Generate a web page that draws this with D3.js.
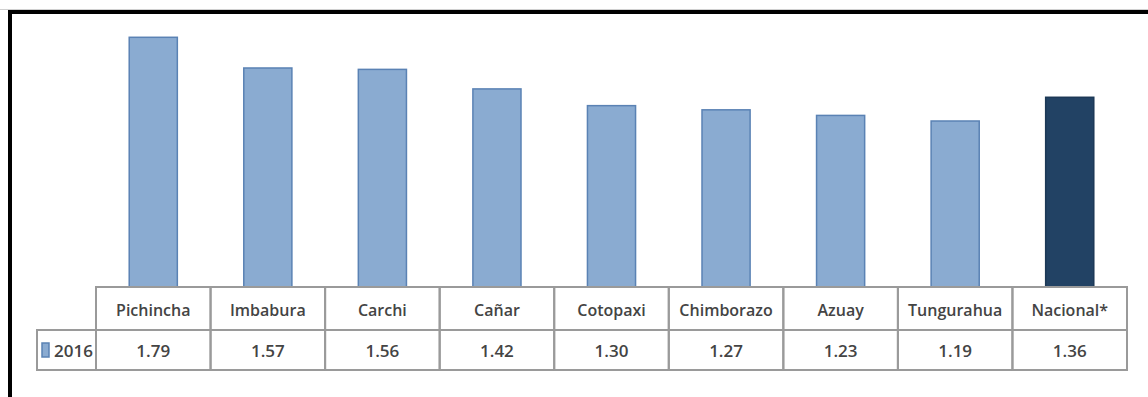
<!DOCTYPE html>
<html lang="es">
<head>
    <meta charset="UTF-8">
    <title>2016 por provincia</title>
    <script src="https://d3js.org/d3.v7.min.js"></script>
    <style>
        body { margin: 0; background: #fff; }
        text { font-family: "Open Sans", "Noto Sans", sans-serif; fill: #444; font-weight: 600; }
    </style>
</head>
<body>
    <svg width="1148" height="397"></svg>
    <script>
// data
const categories = ['Pichincha', 'Imbabura', 'Carchi', 'Cañar', 'Cotopaxi', 'Chimborazo', 'Azuay', 'Tungurahua', 'Nacional*'];
const values2016 = [1.79, 1.57, 1.56, 1.42, 1.30, 1.27, 1.23, 1.19, 1.36];
const seriesName = '2016';
const highlighted = ['Nacional*'];

const svg = d3.select('svg');

// frame
svg.append('line')
    .attr('x1', 0).attr('x2', 1148)
    .attr('y1', 9.5).attr('y2', 9.5)
    .attr('stroke', '#d0d0d0');
svg.append('rect')
    .attr('x', 10).attr('y', 12)
    .attr('width', 1300).attr('height', 600)
    .attr('fill', 'none')
    .attr('stroke', '#000')
    .attr('stroke-width', 4);

const left = 96, right = 1127, baseline = 287;
const rowH1 = 43, rowH2 = 40;

const xCell = d3.scaleBand().domain(categories).range([left, right]).padding(0);
const xBar = d3.scaleBand().domain(categories).range([left, right])
    .paddingInner(0.58).paddingOuter(0.29);
const y = d3.scaleLinear().domain([0, 2]).range([baseline, 8]);

const data = categories.map((c, i) => ({ cat: c, value: values2016[i] }));

// bars
svg.selectAll('.bar')
    .data(data)
    .enter()
    .append('rect')
    .attr('class', 'bar')
    .attr('x', d => xBar(d.cat))
    .attr('y', d => y(d.value))
    .attr('width', xBar.bandwidth())
    .attr('height', d => baseline - y(d.value))
    .attr('fill', d => highlighted.includes(d.cat) ? '#224264' : '#8aabd1')
    .attr('stroke', d => highlighted.includes(d.cat) ? '#1c3856' : '#5a82b4')
    .attr('stroke-width', 1.5);

// data table
const grid = svg.append('g')
    .attr('stroke', '#9a9a9a')
    .attr('stroke-width', 2)
    .attr('fill', 'none');

// category row + value row cells
grid.selectAll('.cell1')
    .data(categories)
    .enter()
    .append('rect')
    .attr('x', d => xCell(d))
    .attr('y', baseline)
    .attr('width', xCell.bandwidth())
    .attr('height', rowH1);
grid.selectAll('.cell2')
    .data(categories)
    .enter()
    .append('rect')
    .attr('x', d => xCell(d))
    .attr('y', baseline + rowH1)
    .attr('width', xCell.bandwidth())
    .attr('height', rowH2);
// legend cell
grid.append('rect')
    .attr('x', 37).attr('y', baseline + rowH1)
    .attr('width', left - 37).attr('height', rowH2);

svg.selectAll('.cat-label')
    .data(categories)
    .enter()
    .append('text')
    .attr('x', d => xCell(d) + xCell.bandwidth() / 2)
    .attr('y', baseline + rowH1 / 2 + 1)
    .attr('text-anchor', 'middle')
    .attr('dominant-baseline', 'central')
    .attr('font-size', 16)
    .text(d => d);

svg.selectAll('.val-label')
    .data(data)
    .enter()
    .append('text')
    .attr('x', d => xCell(d.cat) + xCell.bandwidth() / 2)
    .attr('y', baseline + rowH1 + rowH2 / 2)
    .attr('text-anchor', 'middle')
    .attr('dominant-baseline', 'central')
    .attr('font-size', 17)
    .text(d => d.value.toFixed(2));

// legend
svg.append('rect')
    .attr('x', 42).attr('y', baseline + rowH1 + 13)
    .attr('width', 7).attr('height', 14)
    .attr('fill', '#8aabd1')
    .attr('stroke', '#5a82b4')
    .attr('stroke-width', 1.5);
svg.append('text')
    .attr('x', 54)
    .attr('y', baseline + rowH1 + rowH2 / 2)
    .attr('dominant-baseline', 'central')
    .attr('font-size', 17)
    .text(seriesName);
    </script>
</body>
</html>
